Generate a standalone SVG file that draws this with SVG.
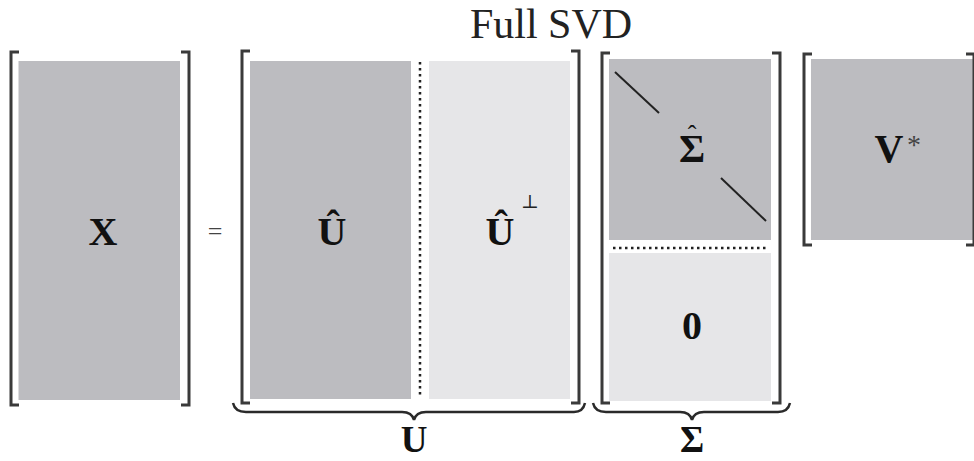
<svg xmlns="http://www.w3.org/2000/svg" width="974" height="461" viewBox="0 0 974 461">
<style>
.dk{fill:#bcbcc0}
.lt{fill:#e6e6e8}
.br{fill:none;stroke:#3a3a3a;stroke-width:3}
.brace{fill:none;stroke:#2a2a2a;stroke-width:2.5}
.dot{stroke:#222;stroke-width:2.5;stroke-dasharray:2.5 3.5}
.lab{font-family:"Liberation Serif",serif;font-weight:bold;font-size:40px;fill:#111;text-anchor:middle}
.title{font-family:"Liberation Serif",serif;font-size:42px;fill:#222;text-anchor:middle}
</style>
<rect width="974" height="461" fill="#fff"/>
<text class="title" x="551" y="38">Full SVD</text>
<g id="X">
<rect class="dk" x="18.5" y="61" width="161.5" height="339"/>
<path class="br" d="M19,52 H11 V405 H19"/>
<path class="br" d="M181,52 H189 V405 H181"/>
<text class="lab" x="103" y="245">X</text>
</g>
<text x="215" y="240" style="font-family:'Liberation Serif',serif;font-size:26px;fill:#444;text-anchor:middle">=</text>
<g id="U">
<rect class="dk" x="250" y="61" width="161" height="338"/>
<rect class="lt" x="429" y="61" width="141" height="338"/>
<line class="dot" x1="420" y1="62" x2="420" y2="398"/>
<path class="br" d="M250,51 H242 V403 H250"/>
<path class="br" d="M571,51 H579 V403 H571"/>
<text class="lab" x="332" y="245">Û</text>
<text class="lab" x="500" y="245">Û</text>
<text x="530" y="208" style="font-family:'DejaVu Serif',serif;font-size:19px;fill:#222;text-anchor:middle">⊥</text>
</g>
<g id="Sigma">
<rect class="dk" x="609" y="59" width="162" height="181"/>
<rect class="lt" x="609" y="253" width="162" height="148"/>
<line class="dot" x1="613" y1="248" x2="768" y2="248"/>
<line x1="615" y1="72" x2="659" y2="113" stroke="#222" stroke-width="2"/>
<line x1="721" y1="178" x2="766" y2="221" stroke="#222" stroke-width="2"/>
<path class="br" d="M610,53 H602 V403 H610"/>
<path class="br" d="M772,53 H780 V403 H772"/>
<text class="lab" x="692" y="162">Σ<tspan x="692" y="143" style="font-weight:normal;font-size:26px">ˆ</tspan></text>
<text class="lab" x="692" y="339">0</text>
</g>
<g id="Vstar">
<rect class="dk" x="811" y="59" width="162" height="181"/>
<path class="br" d="M812,54 H804 V245 H812"/>
<path class="br" d="M966,54 H974 V245 H966"/>
<text class="lab" x="889" y="162">V</text>
<text x="914" y="154" style="font-family:'Liberation Serif',serif;font-size:28px;fill:#444;text-anchor:middle">*</text>
</g>
<g id="connectors">
<path class="brace" d="M233,403 Q235,412 246,412 H402 Q412,412 414,420 Q416,412 426,412 H574 Q583,412 585,403"/>
<path class="brace" d="M593,403 Q595,412 606,412 H680 Q690,412 692,420 Q694,412 704,412 H778 Q788,412 790,403"/>
</g>
<text class="lab" x="414" y="452" style="font-size:37px">U</text>
<text class="lab" x="692" y="452" style="font-size:37px">Σ</text>
</svg>
